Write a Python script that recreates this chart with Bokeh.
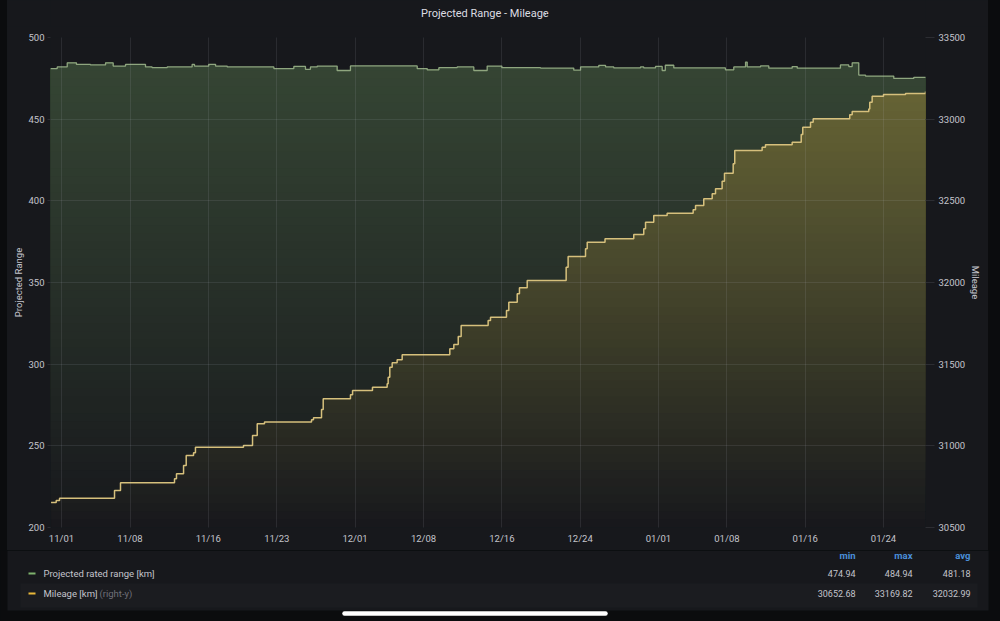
import numpy as np
import pandas as pd
from bokeh.plotting import figure
from bokeh.models import Range1d, LinearAxis, FixedTicker, DatetimeTickFormatter, Div
from bokeh.layouts import column, row
from bokeh.embed import file_html
from bokeh.resources import INLINE
from bokeh.core.properties import value

# ---------------- data ----------------
range_times = [
    "2020-10-30 21:00", "2020-10-31 13:30", "2020-11-01 14:00", "2020-11-02 12:40",
    "2020-11-03 23:00", "2020-11-05 12:00", "2020-11-06 06:40", "2020-11-07 13:00",
    "2020-11-09 14:00", "2020-11-10 06:10", "2020-11-11 19:10", "2020-11-14 08:20",
    "2020-11-14 14:10", "2020-11-16 01:10", "2020-11-16 17:50", "2020-11-17 22:20",
    "2020-11-22 16:50", "2020-11-24 17:50", "2020-11-25 22:20", "2020-11-26 10:30",
    "2020-11-27 03:10", "2020-11-29 04:00", "2020-11-30 12:40", "2020-12-07 08:20",
    "2020-12-08 08:50", "2020-12-09 13:30", "2020-12-11 10:20", "2020-12-13 03:10",
    "2020-12-14 12:00", "2020-12-16 00:00", "2020-12-19 22:50", "2020-12-23 08:20",
    "2020-12-24 01:00", "2020-12-25 21:40", "2020-12-26 14:20", "2020-12-27 10:30",
    "2020-12-30 04:00", "2020-12-30 12:00", "2020-12-31 16:50", "2021-01-01 09:10",
    "2021-01-01 16:50", "2021-01-02 13:40", "2021-01-07 20:20", "2021-01-08 16:50",
    "2021-01-09 21:40", "2021-01-10 01:40", "2021-01-11 10:20", "2021-01-12 06:40",
    "2021-01-14 16:00", "2021-01-15 04:20", "2021-01-19 14:20", "2021-01-20 10:50",
    "2021-01-20 19:10", "2021-01-21 11:20", "2021-01-22 03:50", "2021-01-25 01:10",
    "2021-01-27 02:20", "2021-01-28 07:00",
]
range_km = [
    481.0, 482.0, 484.5, 483.5,
    483.2, 484.5, 482.5, 483.5,
    482.0, 481.5, 482.0, 483.5,
    482.5, 483.6, 482.5, 482.0,
    481.0, 482.3, 480.5, 482.0,
    482.5, 479.8, 482.6, 481.0,
    480.2, 481.5, 482.0, 479.8,
    482.5, 481.5, 481.3, 480.0,
    482.0, 482.9, 482.0, 481.4,
    482.0, 481.4, 482.3, 479.8,
    483.0, 481.4, 480.2, 482.0,
    484.94, 482.0, 482.6, 481.2,
    482.2, 481.2, 483.2, 482.2,
    484.5, 477.0, 476.4, 474.94,
    475.6, 476.0,
]

mileage_times = [
    "2020-10-30 22:20", "2020-10-31 11:00", "2020-10-31 19:10", "2020-11-06 10:00",
    "2020-11-07 00:40", "2020-11-12 13:10", "2020-11-12 18:00", "2020-11-13 11:20",
    "2020-11-13 17:50", "2020-11-14 11:50", "2020-11-14 16:30", "2020-11-19 14:20",
    "2020-11-20 12:30", "2020-11-21 00:00", "2020-11-21 17:50", "2020-11-26 13:10",
    "2020-11-26 18:00", "2020-11-27 13:40", "2020-11-27 17:50", "2020-11-30 12:40",
    "2020-11-30 17:50", "2020-12-02 18:40", "2020-12-04 06:40", "2020-12-04 09:10",
    "2020-12-04 13:10", "2020-12-04 19:00", "2020-12-05 07:10", "2020-12-05 19:30",
    "2020-12-10 16:20", "2020-12-11 02:10", "2020-12-11 13:00", "2020-12-11 20:10",
    "2020-12-14 14:20", "2020-12-14 20:10", "2020-12-16 11:20", "2020-12-16 17:00",
    "2020-12-17 13:40", "2020-12-17 19:10", "2020-12-18 14:10", "2020-12-22 13:40",
    "2020-12-22 18:30", "2020-12-24 13:10", "2020-12-24 17:20", "2020-12-26 13:00",
    "2020-12-29 11:30", "2020-12-30 12:00", "2020-12-30 16:20", "2020-12-31 12:30",
    "2021-01-01 21:20", "2021-01-04 13:10", "2021-01-04 19:00", "2021-01-05 15:10",
    "2021-01-06 11:50", "2021-01-06 20:00", "2021-01-07 12:10", "2021-01-07 18:00",
    "2021-01-08 15:20", "2021-01-08 19:10", "2021-01-11 14:20", "2021-01-11 22:30",
    "2021-01-14 16:00", "2021-01-15 14:10", "2021-01-15 18:00", "2021-01-16 13:00",
    "2021-01-16 19:30", "2021-01-20 13:10", "2021-01-20 19:10", "2021-01-22 11:50",
    "2021-01-22 14:20", "2021-01-22 20:10", "2021-01-24 00:00", "2021-01-26 06:00",
    "2021-01-28 07:00",
]
mileage_km = [
    30652.68, 30665, 30679, 30727,
    30774, 30798, 30829, 30880,
    30941, 30957, 30992, 31002,
    31063, 31135, 31146, 31159,
    31172, 31222, 31288, 31312,
    31339, 31359, 31380, 31420,
    31481, 31508, 31527, 31557,
    31594, 31620, 31669, 31737,
    31767, 31788, 31829, 31879,
    31931, 31968, 32012, 32094,
    32159, 32206, 32247, 32268,
    32294, 32329, 32369, 32410,
    32424, 32445, 32471, 32512,
    32543, 32574, 32620, 32669,
    32727, 32808, 32828, 32843,
    32859, 32906, 32951, 32981,
    33002, 33027, 33047, 33063,
    33104, 33141, 33151, 33157,
    33169.82,
]

tick_dates = ["2020-11-01", "2020-11-08", "2020-11-16", "2020-11-23", "2020-12-01",
              "2020-12-08", "2020-12-16", "2020-12-24", "2021-01-01", "2021-01-08",
              "2021-01-16", "2021-01-24"]
left_ticks = [200, 250, 300, 350, 400, 450, 500]
right_ticks = [30500, 31000, 31500, 32000, 32500, 33000, 33500]

title_text = "Projected Range - Mileage"
series_names = ["Projected rated range [km]", "Mileage [km]"]
series_suffix = ["", "(right-y)"]
stat_names = ["min", "max", "avg"]
range_stats = ["474.94", "484.94", "481.18"]
mileage_stats = ["30652.68", "33169.82", "32032.99"]

# ---------------- style ----------------
PANEL = "#17181c"
OUTER = "#0b0c0e"
GRID = "#2c2d32"
TXT = "#c4c4cc"
GREEN = "#7eb26d"
GREEN_LINE = "#8fa67f"
YELLOW = "#eab839"
YELLOW_LINE = "#d6c07c"
FONT = "Roboto"
FILL_OPACITY = 0.31


def hex2rgb(h):
    h = h.lstrip("#")
    return np.array([int(h[i:i + 2], 16) for i in (0, 2, 4)], dtype=float)


def blend(top, base, a):
    c = np.round(a * hex2rgb(top) + (1 - a) * base).astype(int)
    return "#%02x%02x%02x" % tuple(c)


def step_xy(times, vals):
    t = pd.to_datetime(times).values
    xs, ys = [t[0]], [vals[0]]
    for i in range(1, len(t)):
        xs += [t[i], t[i]]
        ys += [vals[i - 1], vals[i]]
    return np.array(xs), np.array(ys, dtype=float)


def blank_figure(w, h, bgc):
    f = figure(width=w, height=h, x_range=Range1d(0, w), y_range=Range1d(h, 0),
               output_backend="svg", toolbar_location=None, min_border=0, title=None,
               x_axis_location=None, y_axis_location=None,
               background_fill_color=bgc, border_fill_color=bgc, outline_line_color=None)
    f.xgrid.visible = False
    f.ygrid.visible = False
    return f


rx, ry = step_xy(range_times, range_km)
mx, my = step_xy(mileage_times, mileage_km)

x0 = pd.to_datetime(range_times[0])
x1 = pd.to_datetime(range_times[-1])

# ---------------- title strip ----------------
tfig = blank_figure(981, 26, PANEL)
tfig.text(x=[487], y=[13], text=[title_text], text_font=value(FONT), text_font_size="11px",
          text_color="#dcdce2", text_align="center", text_baseline="middle")
# dropdown chevron icon
tfig.line(x=[552, 554.5, 557], y=[12, 14.5, 12], line_color="#8e8e96", line_width=1)

# ---------------- main chart ----------------
p = figure(width=981, height=524, x_axis_type="datetime", title=None,
           x_range=Range1d(x0, x1), y_range=Range1d(left_ticks[0], left_ticks[-1]),
           output_backend="svg", toolbar_location=None,
           min_border_left=43, min_border_right=63, min_border_top=11, min_border_bottom=23,
           background_fill_color=PANEL, border_fill_color=PANEL, outline_line_color=None)
p.extra_y_ranges = {"mileage": Range1d(right_ticks[0], right_ticks[-1])}

# opacity-gradient fills, emulated with stacked opaque bands (bottom -> top)
N = 60
lv = np.linspace(0, 1, N + 1)[:-1]
bg = hex2rgb(PANEL)
for k in range(N):
    f = lv[k] + 0.5 / N
    a = left_ticks[0] + (left_ticks[-1] - left_ticks[0]) * lv[k]
    if ry.max() > a:
        p.varea(x=rx, y1=np.full_like(ry, a), y2=np.maximum(ry, a),
                fill_color=blend(GREEN, bg, FILL_OPACITY * f))
for k in range(N):
    f = lv[k] + 0.5 / N
    under = hex2rgb(blend(GREEN, bg, FILL_OPACITY * f))
    a = right_ticks[0] + (right_ticks[-1] - right_ticks[0]) * lv[k]
    if my.max() > a:
        p.varea(x=mx, y1=np.full_like(my, a), y2=np.maximum(my, a),
                fill_color=blend(YELLOW, under, FILL_OPACITY * f), y_range_name="mileage")

p.line(rx, ry, line_color=GREEN_LINE, line_width=1.3)
p.line(mx, my, line_color=YELLOW_LINE, line_width=1.5, y_range_name="mileage")

# axes
p.xaxis.ticker = FixedTicker(ticks=[pd.Timestamp(d).value / 1e6 for d in tick_dates])
p.xaxis.formatter = DatetimeTickFormatter(days="%m/%d", months="%m/%d", hours="%m/%d", years="%m/%d")
p.yaxis.ticker = FixedTicker(ticks=left_ticks)
p.yaxis.axis_label = "Projected Range"

ra = LinearAxis(y_range_name="mileage", ticker=FixedTicker(ticks=right_ticks), axis_label="Mileage")
p.add_layout(ra, "right")

for ax in p.axis:
    ax.axis_line_color = None
    ax.major_tick_line_color = GRID
    ax.minor_tick_line_color = None
    ax.major_tick_in = 0
    ax.major_label_text_font = FONT
    ax.major_label_text_font_size = "9.5px"
    ax.major_label_text_color = TXT
    ax.axis_label_text_font = FONT
    ax.axis_label_text_font_size = "9.5px"
    ax.axis_label_text_color = TXT
    ax.axis_label_text_font_style = "normal"

p.xaxis.major_tick_out = 0
p.xaxis.major_label_standoff = 5
p.yaxis[0].major_tick_out = 3
p.yaxis[0].major_label_standoff = 3
p.yaxis[0].axis_label_standoff = 1
ra.major_tick_out = 9
ra.major_label_standoff = 4
ra.axis_label_standoff = 2

p.xgrid.ticker = p.xaxis.ticker
for g in (p.xgrid, p.ygrid):
    g.grid_line_color = "#ccccdc"
    g.grid_line_alpha = 0.11
    g.level = "overlay"

# ---------------- legend table ----------------
leg = blank_figure(1000, 71, OUTER)
leg.quad(left=[7], right=[988], top=[0], bottom=[60], fill_color=PANEL, line_color=None)
leg.quad(left=[20], right=[977], top=[33], bottom=[57], fill_color="#1b1c20", line_color=None)

row_y = [23, 43]
leg.segment(x0=[28, 28], y0=row_y, x1=[35, 35], y1=row_y,
            line_color=[GREEN, YELLOW], line_width=2)
leg.text(x=[43, 43], y=row_y, text=series_names, text_font=value(FONT),
         text_font_size="9.5px", text_color=TXT, text_baseline="middle")
leg.text(x=[99], y=[row_y[1]], text=[series_suffix[1]], text_font=value(FONT),
         text_font_size="9.5px", text_color="#6e6f78", text_baseline="middle")
col_x = [855, 912, 970]
leg.text(x=col_x, y=[5] * 3, text=stat_names, text_font=value(FONT),
         text_font_size="9.5px", text_font_style="bold", text_color="#4a8fd8",
         text_baseline="middle", text_align="right")
leg.text(x=col_x, y=[row_y[0]] * 3, text=range_stats, text_font=value(FONT),
         text_font_size="9px", text_color=TXT, text_baseline="middle", text_align="right")
leg.text(x=col_x, y=[row_y[1]] * 3, text=mileage_stats, text_font=value(FONT),
         text_font_size="9px", text_color=TXT, text_baseline="middle", text_align="right")
# phone home indicator
leg.segment(x0=[344], y0=[63], x1=[605], y1=[63], line_color="white", line_width=4.5, line_cap="round")

left_side = Div(width=7, height=550, margin=0, styles={"background-color": OUTER})
right_side = Div(width=12, height=550, margin=0, styles={"background-color": OUTER})
inner = column(tfig, p, spacing=0, styles={"background-color": PANEL})
layout = column(row(left_side, inner, right_side, spacing=0), leg, spacing=0,
                styles={"background-color": OUTER})

open("out.html", "w").write(file_html(layout, INLINE))
